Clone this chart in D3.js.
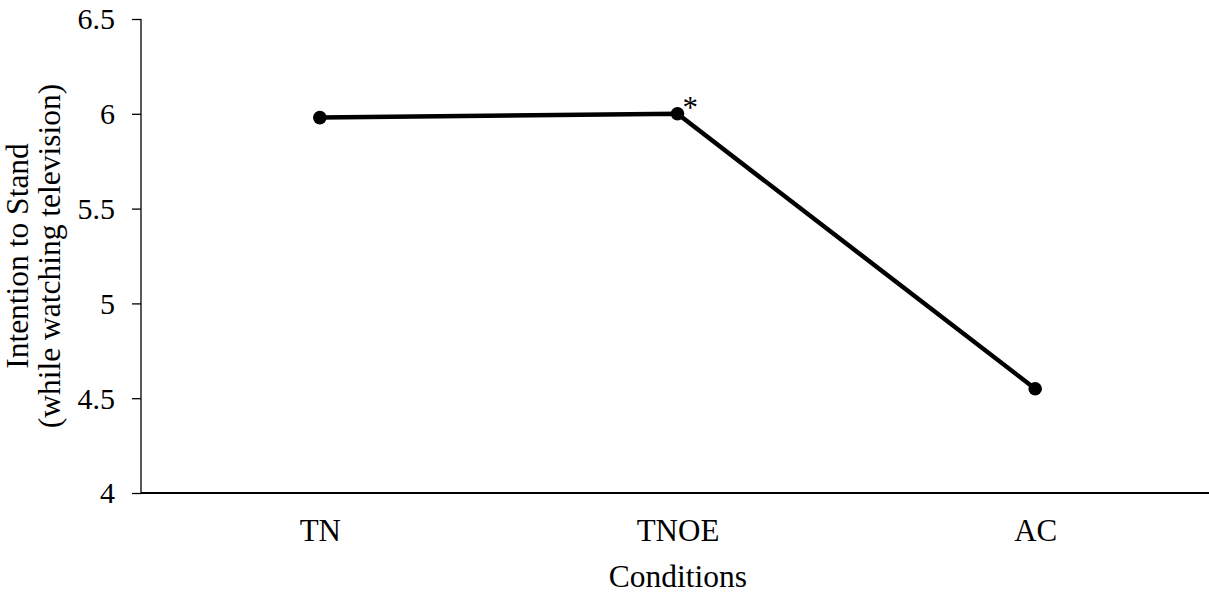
<!DOCTYPE html>
<html>
<head>
<meta charset="utf-8">
<script src="https://cdn.jsdelivr.net/npm/d3@7"></script>
<style>
body { margin: 0; background: #fff; }
text { font-family: "Liberation Serif", "Times New Roman", serif; fill: #000; }
</style>
</head>
<body>
<div id="chart"></div>
<script>
var conditions = ["TN", "TNOE", "AC"];
var intention = [5.98, 6.0, 4.55];
var marks = ["", "*", ""];
var yTicks = [4, 4.5, 5, 5.5, 6, 6.5];

var width = 1209, height = 593;
var margin = {top: 19, right: -5, bottom: 100, left: 141};

var svg = d3.select("#chart").append("svg")
    .attr("width", width)
    .attr("height", height);

var x = d3.scalePoint()
    .domain(conditions)
    .range([margin.left, width - margin.right])
    .padding(0.5);

var y = d3.scaleLinear()
    .domain([4, 6.5])
    .range([height - margin.bottom, margin.top]);

// y axis
var yAxis = svg.append("g")
    .attr("transform", "translate(" + margin.left + ",0)")
    .call(d3.axisLeft(y).tickValues(yTicks).tickSize(9).tickPadding(17)
        .tickFormat(function(d){ return d3.format("")(d); }));
yAxis.selectAll("path, line").attr("stroke", "#000").attr("stroke-width", 1.3);
yAxis.select(".domain").attr("d", "M0," + y(6.5) + "V" + y(4));
yAxis.selectAll("text").style("font-size", "30px").attr("dy", "0.33em");

// x axis
var xAxis = svg.append("g")
    .attr("transform", "translate(0," + y(4) + ")")
    .call(d3.axisBottom(x).tickSize(0).tickPadding(0));
xAxis.select(".domain").attr("stroke", "#000").attr("stroke-width", 1.8)
    .attr("d", "M" + margin.left + ",0H" + width);
xAxis.selectAll("text").style("font-size", "31px").attr("dy", null).attr("y", 48);

// line
var pts = conditions.map(function(c, i){ return {c: c, v: intention[i], m: marks[i]}; });
svg.append("path")
    .datum(pts)
    .attr("fill", "none")
    .attr("stroke", "#000")
    .attr("stroke-width", 4.5)
    .attr("d", d3.line().x(function(d){ return x(d.c); }).y(function(d){ return y(d.v); }));

svg.selectAll(".dot")
    .data(pts)
    .enter().append("circle")
    .attr("class", "dot")
    .attr("cx", function(d){ return x(d.c); })
    .attr("cy", function(d){ return y(d.v); })
    .attr("r", 6.8)
    .attr("fill", "#000");

svg.selectAll(".mark")
    .data(pts)
    .enter().append("text")
    .attr("class", "mark")
    .attr("x", function(d){ return x(d.c) + 5; })
    .attr("y", function(d){ return y(d.v) + 4; })
    .style("font-size", "31px")
    .text(function(d){ return d.m; });

// axis titles
svg.append("text")
    .attr("x", margin.left + (width - margin.left) / 2 + 3)
    .attr("y", 587)
    .attr("text-anchor", "middle")
    .style("font-size", "31.5px")
    .text("Conditions");

var yt = svg.append("text")
    .attr("transform", "translate(0," + ((y(4) + y(6.5)) / 2) + ") rotate(-90)")
    .attr("text-anchor", "middle")
    .style("font-size", "31.5px");
yt.append("tspan").attr("x", 0).attr("y", 28).text("Intention to Stand");
yt.append("tspan").attr("x", 0).attr("y", 60).text("(while watching television)");
</script>
</body>
</html>
